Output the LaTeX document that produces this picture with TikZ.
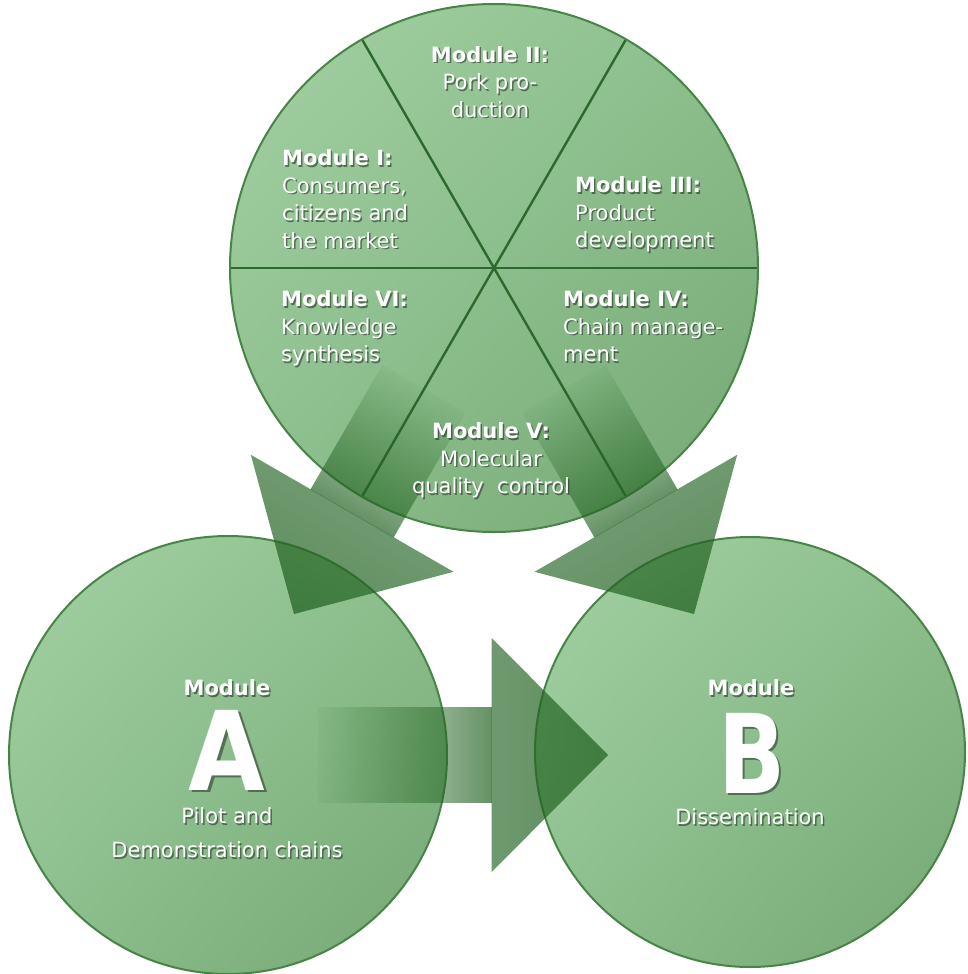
\documentclass[tikz,border=0pt]{standalone}
\usepackage{fontspec}
\setmainfont{DejaVu Sans}
\usetikzlibrary{calc,fadings,shadings}
\definecolor{cl}{RGB}{163,208,163}
\definecolor{cm}{RGB}{141,191,141}
\definecolor{cd}{RGB}{115,167,115}
\definecolor{edgegreen}{RGB}{72,132,72}
\definecolor{spokegreen}{RGB}{45,105,45}
\definecolor{arrowgreen}{RGB}{35,100,35}
\definecolor{shadowgray}{RGB}{40,50,40}
\tikzfading[name=shaftfade, left color=transparent!95, right color=transparent!5]
\tikzfading[name=headfade, left color=transparent!12, right color=transparent!0]
\newcommand\shlabel[4]{%
  \node[lbl,#2,text=shadowgray,text opacity=0.6] (#1s) at ($(#3)+(1.5,1.5)$) {#4};
  \node[lbl,#2] (#1) at (#3) {#4};}
\newcommand\bigletter[3]{%
  \node[bigl,text=shadowgray,text opacity=0.55] (#1s) at ($(#2)+(2.5,2.5)$) {#3};
  \node[bigl] (#1) at (#2) {#3};}
\newcommand\blockarrow[3]{%
  \begin{scope}[transform canvas={shift={(#1)},rotate=#2}]
    \fill[arrowgreen, fill opacity=0.74, path fading=shaftfade]
      (-#3,-48) -- (-116,-48) -- (-116,48) -- (-#3,48) -- cycle;
    \fill[arrowgreen, fill opacity=0.74, path fading=headfade]
      (-116.3,-117) -- (0,0) -- (-116.3,117) -- cycle;
  \end{scope}}
\begin{document}
\begin{tikzpicture}[x=1pt,y=-1pt,
  lbl/.style={font=\fontsize{21}{27.5}\selectfont, text=white, inner sep=0pt},
  bigl/.style={font=\bfseries\fontsize{110}{110}\selectfont, text=white, inner sep=0pt},
  ring/.style={draw=edgegreen, line width=2pt},
  spokeline/.style={draw=spokegreen, line width=2.4pt}]
\useasboundingbox (0,0) rectangle (967,974);
\fill[white] (0,0) rectangle (967,974);
% centres
\coordinate (T) at (494,268);
\coordinate (A) at (228,755);
\coordinate (B) at (750,752);
% top circle
\shade[upper left=cl, upper right=cm, lower left=cm, lower right=cd] (T) circle[radius=264];
\foreach \a in {0,60,120}
  \draw[spokeline] ($(T)+(\a:263)$) -- ($(T)+(\a+180:263)$);
\draw[ring] (T) circle[radius=264];
% circle A and B
\shade[upper left=cl, upper right=cm, lower left=cm, lower right=cd] (A) circle[radius=219];
\draw[ring] (A) circle[radius=219];
\shade[upper left=cl, upper right=cm, lower left=cm, lower right=cd] (B) circle[radius=215];
\draw[ring] (B) circle[radius=215];
% block arrows
\blockarrow{294,614}{240}{260}
\blockarrow{694,614}{300}{260}
\blockarrow{608,755}{0}{290}
% labels in the top circle
\shlabel{m2}{anchor=north,align=center}{490,46}{\textbf{Module II:}\\Pork pro-\\duction}
\shlabel{m1}{anchor=north west,align=left}{282,149.5}{\textbf{Module I:}\\Consumers,\\citizens and\\the market}
\shlabel{m3}{anchor=north west,align=left}{575,176.5}{\textbf{Module III:}\\Product\\development}
\shlabel{m6}{anchor=north west,align=left}{281,290.5}{\textbf{Module VI:}\\Knowledge\\synthesis}
\shlabel{m4}{anchor=north west,align=left}{563,290.5}{\textbf{Module IV:}\\Chain manage-\\ment}
\shlabel{m5}{anchor=north,align=center}{491,422.5}{\textbf{Module V:}\\Molecular\\quality\ \ control}
% module A
\shlabel{amod}{anchor=center}{227,688}{\textbf{Module}}
\bigletter{aletter}{227,750}{\scalebox{0.9}[1]{A}}
\shlabel{apilot}{anchor=center}{227,816}{Pilot and}
\shlabel{ademo}{anchor=center}{227,850}{Demonstration chains}
% module B
\shlabel{bmod}{anchor=center}{751,688}{\textbf{Module}}
\bigletter{bletter}{752,753}{\scalebox{0.8}[1]{B}}
\shlabel{bdiss}{anchor=center}{750,817}{Dissemination}
\end{tikzpicture}
\end{document}
